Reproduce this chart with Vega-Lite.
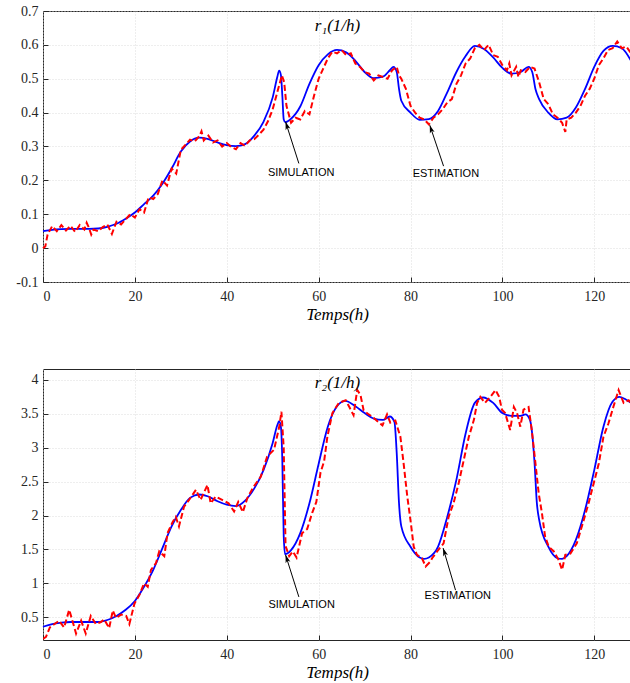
{
  "$schema": "https://vega.github.io/schema/vega-lite/v6.json",
  "padding": {"left": 5, "top": 3, "right": 0, "bottom": 0},
  "background": "white",
  "config": {
    "view": {"stroke": "#262626", "strokeWidth": 1},
    "axis": {
      "labelFont": "Liberation Serif", "labelFontSize": 14, "labelColor": "#262626",
      "titleFont": "Liberation Serif", "titleFontSize": 17, "titleFontStyle": "italic", "titleFontWeight": "normal", "titleColor": "#000000",
      "domain": false, "tickColor": "#262626", "tickSize": -5,
      "grid": true, "gridColor": "#d4d4d4", "gridDash": [1, 2], "gridWidth": 0.8
    },
    "axisX": {"labelPadding": 12},
    "axisY": {"labelPadding": 10}
  },
  "datasets": {
    "r1_sim": [
      {"x":0,"y":0.050},{"x":2,"y":0.054},{"x":4,"y":0.056},{"x":6,"y":0.057},{"x":8,"y":0.057},{"x":10,"y":0.057},{"x":12,"y":0.058},{"x":14,"y":0.063},{"x":16,"y":0.072},{"x":18,"y":0.087},{"x":20,"y":0.105},{"x":22,"y":0.130},{"x":24,"y":0.155},{"x":26,"y":0.190},{"x":28,"y":0.235},{"x":30,"y":0.285},{"x":32,"y":0.315},{"x":34,"y":0.326},{"x":36,"y":0.322},{"x":38,"y":0.312},{"x":40,"y":0.304},{"x":42,"y":0.301},{"x":44,"y":0.307},{"x":46,"y":0.332},{"x":48,"y":0.373},{"x":50,"y":0.445},{"x":51,"y":0.505},{"x":51.4,"y":0.524},{"x":51.8,"y":0.51},{"x":52.1,"y":0.45},{"x":52.4,"y":0.38},{"x":52.7,"y":0.372},{"x":54,"y":0.382},{"x":56,"y":0.418},{"x":58,"y":0.485},{"x":60,"y":0.540},{"x":62,"y":0.572},{"x":64,"y":0.585},{"x":66,"y":0.578},{"x":68,"y":0.553},{"x":70,"y":0.520},{"x":72,"y":0.502},{"x":74,"y":0.506},{"x":75.5,"y":0.525},{"x":76.3,"y":0.535},{"x":77,"y":0.52},{"x":77.5,"y":0.47},{"x":78,"y":0.435},{"x":80,"y":0.400},{"x":82,"y":0.379},{"x":84,"y":0.381},{"x":86,"y":0.405},{"x":88,"y":0.460},{"x":90,"y":0.520},{"x":92,"y":0.567},{"x":94,"y":0.597},{"x":96,"y":0.588},{"x":98,"y":0.563},{"x":100,"y":0.532},{"x":102,"y":0.515},{"x":104,"y":0.520},{"x":105.7,"y":0.535},{"x":106.5,"y":0.52},{"x":107.2,"y":0.47},{"x":108,"y":0.44},{"x":110,"y":0.400},{"x":112,"y":0.380},{"x":114,"y":0.385},{"x":116,"y":0.415},{"x":118,"y":0.470},{"x":120,"y":0.535},{"x":122,"y":0.582},{"x":124,"y":0.597},{"x":126,"y":0.590},{"x":128,"y":0.553}
    ],
    "r1_est": [
      {"x":0,"y":0.000},{"x":0.5,"y":0.005},{"x":1,"y":0.040},{"x":2,"y":0.065},{"x":3,"y":0.050},{"x":4,"y":0.068},{"x":5,"y":0.052},{"x":6,"y":0.066},{"x":7,"y":0.048},{"x":8,"y":0.068},{"x":9,"y":0.055},{"x":9.5,"y":0.075},{"x":10,"y":0.060},{"x":10.5,"y":0.040},{"x":11,"y":0.055},{"x":12,"y":0.050},{"x":13,"y":0.062},{"x":14,"y":0.070},{"x":15,"y":0.042},{"x":16,"y":0.078},{"x":17,"y":0.070},{"x":18,"y":0.085},{"x":19,"y":0.100},{"x":20,"y":0.090},{"x":21,"y":0.115},{"x":22,"y":0.105},{"x":23,"y":0.150},{"x":24,"y":0.145},{"x":25,"y":0.160},{"x":26,"y":0.200},{"x":27,"y":0.185},{"x":28,"y":0.235},{"x":29,"y":0.220},{"x":30,"y":0.290},{"x":31,"y":0.305},{"x":32,"y":0.320},{"x":33,"y":0.315},{"x":34,"y":0.330},{"x":34.5,"y":0.345},{"x":35,"y":0.318},{"x":36,"y":0.332},{"x":37,"y":0.312},{"x":38,"y":0.318},{"x":39,"y":0.300},{"x":40,"y":0.310},{"x":41,"y":0.298},{"x":42,"y":0.292},{"x":43,"y":0.310},{"x":44,"y":0.302},{"x":45,"y":0.318},{"x":46,"y":0.322},{"x":47,"y":0.335},{"x":48,"y":0.350},{"x":49,"y":0.375},{"x":50,"y":0.410},{"x":51,"y":0.460},{"x":52,"y":0.510},{"x":52.5,"y":0.490},{"x":53,"y":0.420},{"x":54,"y":0.370},{"x":55,"y":0.385},{"x":56,"y":0.380},{"x":57,"y":0.405},{"x":58,"y":0.395},{"x":59,"y":0.450},{"x":60,"y":0.500},{"x":61,"y":0.530},{"x":62,"y":0.560},{"x":63,"y":0.580},{"x":64,"y":0.575},{"x":65,"y":0.585},{"x":66,"y":0.570},{"x":67,"y":0.575},{"x":68,"y":0.545},{"x":69,"y":0.535},{"x":70,"y":0.520},{"x":71,"y":0.515},{"x":72,"y":0.495},{"x":73,"y":0.510},{"x":74,"y":0.505},{"x":75,"y":0.500},{"x":76,"y":0.525},{"x":77,"y":0.535},{"x":77.5,"y":0.510},{"x":78,"y":0.500},{"x":79,"y":0.470},{"x":80,"y":0.420},{"x":81,"y":0.400},{"x":82,"y":0.385},{"x":83,"y":0.380},{"x":84,"y":0.365},{"x":85,"y":0.385},{"x":86,"y":0.395},{"x":87,"y":0.410},{"x":88,"y":0.430},{"x":89,"y":0.440},{"x":90,"y":0.485},{"x":91,"y":0.510},{"x":92,"y":0.545},{"x":93,"y":0.560},{"x":94,"y":0.590},{"x":95,"y":0.600},{"x":96,"y":0.585},{"x":97,"y":0.600},{"x":98,"y":0.570},{"x":99,"y":0.565},{"x":100,"y":0.540},{"x":101,"y":0.525},{"x":101.5,"y":0.545},{"x":102,"y":0.510},{"x":103,"y":0.535},{"x":103.5,"y":0.505},{"x":104,"y":0.525},{"x":105,"y":0.520},{"x":106,"y":0.535},{"x":107,"y":0.530},{"x":108,"y":0.490},{"x":109,"y":0.440},{"x":110,"y":0.425},{"x":111,"y":0.395},{"x":112,"y":0.385},{"x":113,"y":0.370},{"x":113.7,"y":0.343},{"x":114,"y":0.380},{"x":115,"y":0.385},{"x":116,"y":0.400},{"x":117,"y":0.420},{"x":118,"y":0.450},{"x":119,"y":0.470},{"x":120,"y":0.500},{"x":121,"y":0.540},{"x":122,"y":0.560},{"x":123,"y":0.585},{"x":124,"y":0.590},{"x":125,"y":0.610},{"x":126,"y":0.590},{"x":127,"y":0.595},{"x":128,"y":0.575}
    ],
    "r2_sim": [
      {"x":0,"y":0.36},{"x":2,"y":0.40},{"x":4,"y":0.42},{"x":6,"y":0.43},{"x":8,"y":0.43},{"x":10,"y":0.43},{"x":12,"y":0.43},{"x":14,"y":0.46},{"x":16,"y":0.52},{"x":18,"y":0.61},{"x":20,"y":0.74},{"x":22,"y":0.95},{"x":24,"y":1.20},{"x":26,"y":1.52},{"x":28,"y":1.84},{"x":30,"y":2.08},{"x":32,"y":2.26},{"x":34,"y":2.31},{"x":36,"y":2.28},{"x":38,"y":2.21},{"x":40,"y":2.16},{"x":42,"y":2.14},{"x":44,"y":2.22},{"x":46,"y":2.40},{"x":48,"y":2.67},{"x":50,"y":3.07},{"x":51,"y":3.33},{"x":51.4,"y":3.39},{"x":51.8,"y":3.30},{"x":52.1,"y":2.80},{"x":52.4,"y":1.70},{"x":52.7,"y":1.43},{"x":54,"y":1.49},{"x":56,"y":1.74},{"x":58,"y":2.18},{"x":60,"y":2.76},{"x":62,"y":3.31},{"x":64,"y":3.61},{"x":65.8,"y":3.69},{"x":68,"y":3.61},{"x":70,"y":3.51},{"x":72,"y":3.43},{"x":74,"y":3.41},{"x":75.5,"y":3.46},{"x":76.5,"y":3.38},{"x":77,"y":2.92},{"x":77.5,"y":2.18},{"x":78,"y":1.84},{"x":80,"y":1.54},{"x":82,"y":1.38},{"x":83,"y":1.36},{"x":84,"y":1.38},{"x":86,"y":1.54},{"x":88,"y":1.98},{"x":90,"y":2.53},{"x":92,"y":3.21},{"x":94,"y":3.66},{"x":95.8,"y":3.74},{"x":98,"y":3.66},{"x":100,"y":3.51},{"x":102,"y":3.47},{"x":104,"y":3.47},{"x":105,"y":3.49},{"x":106,"y":3.41},{"x":107,"y":2.78},{"x":107.5,"y":2.19},{"x":108,"y":1.94},{"x":110,"y":1.54},{"x":112,"y":1.37},{"x":113,"y":1.36},{"x":114,"y":1.40},{"x":116,"y":1.64},{"x":118,"y":2.08},{"x":120,"y":2.67},{"x":122,"y":3.31},{"x":124,"y":3.68},{"x":125.5,"y":3.75},{"x":126,"y":3.74},{"x":128,"y":3.66}
    ],
    "r2_est": [
      {"x":0,"y":0.18},{"x":0.65,"y":0.21},{"x":1.5,"y":0.35},{"x":2.5,"y":0.40},{"x":3.5,"y":0.45},{"x":4.6,"y":0.35},{"x":5.7,"y":0.61},{"x":6.4,"y":0.45},{"x":7.2,"y":0.26},{"x":8.3,"y":0.45},{"x":9.3,"y":0.26},{"x":10.4,"y":0.52},{"x":11.5,"y":0.40},{"x":12.6,"y":0.43},{"x":13.3,"y":0.47},{"x":14.4,"y":0.34},{"x":15.2,"y":0.60},{"x":15.9,"y":0.49},{"x":17.0,"y":0.54},{"x":18.1,"y":0.52},{"x":18.8,"y":0.40},{"x":19.9,"y":0.70},{"x":21.0,"y":0.83},{"x":22.0,"y":1.00},{"x":22.8,"y":0.95},{"x":23.5,"y":1.20},{"x":24.6,"y":1.30},{"x":25.3,"y":1.47},{"x":26.4,"y":1.40},{"x":27.1,"y":1.74},{"x":28.2,"y":1.90},{"x":28.9,"y":1.98},{"x":29.6,"y":1.84},{"x":30.7,"y":2.13},{"x":31.8,"y":2.23},{"x":33.3,"y":2.38},{"x":34.3,"y":2.23},{"x":35.8,"y":2.45},{"x":36.5,"y":2.18},{"x":37.6,"y":2.28},{"x":39.0,"y":2.23},{"x":40.4,"y":2.18},{"x":41.6,"y":2.06},{"x":42.5,"y":2.20},{"x":43.5,"y":2.05},{"x":44.5,"y":2.26},{"x":45.9,"y":2.43},{"x":47.4,"y":2.57},{"x":48.8,"y":2.87},{"x":50.3,"y":2.97},{"x":51.4,"y":3.30},{"x":51.9,"y":3.53},{"x":52.4,"y":3.00},{"x":52.8,"y":1.55},{"x":53.6,"y":1.40},{"x":54.4,"y":1.47},{"x":55.2,"y":1.38},{"x":56.4,"y":1.74},{"x":57.5,"y":1.80},{"x":58.6,"y":2.04},{"x":59.5,"y":2.20},{"x":60.4,"y":2.63},{"x":61.2,"y":2.80},{"x":61.9,"y":3.16},{"x":63.0,"y":3.51},{"x":64.4,"y":3.66},{"x":65.9,"y":3.70},{"x":66.6,"y":3.61},{"x":67.6,"y":3.48},{"x":68.4,"y":3.85},{"x":69.1,"y":3.78},{"x":69.8,"y":3.55},{"x":70.9,"y":3.49},{"x":71.8,"y":3.45},{"x":72.8,"y":3.39},{"x":73.9,"y":3.33},{"x":74.9,"y":3.49},{"x":75.6,"y":3.37},{"x":76.7,"y":3.40},{"x":77.8,"y":3.16},{"x":78.5,"y":2.77},{"x":79.3,"y":2.28},{"x":80.0,"y":1.93},{"x":80.7,"y":1.54},{"x":81.4,"y":1.42},{"x":82.5,"y":1.37},{"x":83.3,"y":1.25},{"x":84.3,"y":1.32},{"x":84.7,"y":1.37},{"x":85.8,"y":1.47},{"x":87.2,"y":1.59},{"x":88.3,"y":1.98},{"x":89.4,"y":2.19},{"x":90.5,"y":2.48},{"x":91.6,"y":2.82},{"x":92.7,"y":3.16},{"x":93.8,"y":3.41},{"x":94.5,"y":3.66},{"x":95.2,"y":3.75},{"x":96.2,"y":3.66},{"x":97.4,"y":3.75},{"x":98.5,"y":3.85},{"x":99.3,"y":3.75},{"x":99.9,"y":3.56},{"x":100.6,"y":3.51},{"x":101.7,"y":3.26},{"x":102.5,"y":3.60},{"x":103.2,"y":3.51},{"x":103.9,"y":3.31},{"x":104.6,"y":3.56},{"x":105.7,"y":3.60},{"x":106.4,"y":3.26},{"x":107.2,"y":2.77},{"x":107.9,"y":2.33},{"x":108.6,"y":2.04},{"x":109.3,"y":1.69},{"x":110.1,"y":1.54},{"x":111.2,"y":1.47},{"x":112.2,"y":1.35},{"x":113.0,"y":1.20},{"x":113.7,"y":1.42},{"x":114.8,"y":1.44},{"x":116.2,"y":1.59},{"x":117.7,"y":1.93},{"x":118.8,"y":2.19},{"x":119.9,"y":2.48},{"x":121.0,"y":2.77},{"x":122.0,"y":3.16},{"x":123.1,"y":3.36},{"x":124.2,"y":3.61},{"x":125.3,"y":3.85},{"x":126.4,"y":3.66},{"x":127.5,"y":3.70},{"x":128,"y":3.66}
    ],
    "r1_labels": [
      {"x":56.2,"y":0.223,"label":"SIMULATION"},
      {"x":87.7,"y":0.219,"label":"ESTIMATION"}
    ],
    "r1_arrows": [
      {"x":55.7,"y":0.25,"x2":52.8,"y2":0.373},
      {"x":87.2,"y":0.242,"x2":84.2,"y2":0.363}
    ],
    "r1_title": [{"x":64.1,"y":0.655,"label":"r₁(1/h)"}],
    "r2_labels": [
      {"x":56.3,"y":0.68,"label":"SIMULATION"},
      {"x":90.3,"y":0.82,"label":"ESTIMATION"}
    ],
    "r2_arrows": [
      {"x":55.7,"y":0.80,"x2":52.8,"y2":1.42},
      {"x":89.8,"y":0.90,"x2":87.1,"y2":1.52}
    ],
    "r2_title": [{"x":64.1,"y":3.95,"label":"r₂(1/h)"}]
  },
  "vconcat": [
    {
      "width": 588, "height": 271,
      "layer": [
        {
          "data": {"name": "r1_sim"},
          "mark": {"type": "line", "color": "#0000ff", "strokeWidth": 1.8, "interpolate": "monotone"},
          "encoding": {
            "x": {"field": "x", "type": "quantitative", "scale": {"domain": [0, 128], "nice": false, "zero": false},
                  "axis": {"values": [0, 20, 40, 60, 80, 100, 120], "tickCount": 7, "title": "Temps(h)", "titlePadding": 3}},
            "y": {"field": "y", "type": "quantitative", "scale": {"domain": [-0.1, 0.7], "nice": false, "zero": false},
                  "axis": {"values": [-0.1, 0, 0.1, 0.2, 0.3, 0.4, 0.5, 0.6, 0.7], "tickCount": 9, "title": null, "minExtent": 37, "maxExtent": 37, "labelOverlap": false,
                           "labelExpr": "datum.value == 0 ? '0' : (datum.value < 0 ? '-' + format(-datum.value, '.1f') : format(datum.value, '.1f'))"}}
          }
        },
        {
          "data": {"name": "r1_est"},
          "mark": {"type": "line", "color": "#ff0000", "strokeWidth": 2, "strokeDash": [6, 3]},
          "encoding": {"x": {"field": "x", "type": "quantitative"}, "y": {"field": "y", "type": "quantitative"}}
        },
        {
          "data": {"name": "r1_arrows"},
          "mark": {"type": "rule", "color": "#000000", "strokeWidth": 1},
          "encoding": {"x": {"field": "x", "type": "quantitative"}, "y": {"field": "y", "type": "quantitative"},
                       "x2": {"field": "x2"}, "y2": {"field": "y2"}}
        },
        {
          "data": {"name": "r1_arrows"},
          "mark": {"type": "point", "shape": "M0,0L-0.5,1.6L0,1.2L0.5,1.6Z", "filled": true, "color": "#000000", "opacity": 1, "size": 100, "angle": 342},
          "encoding": {"x": {"field": "x2", "type": "quantitative"}, "y": {"field": "y2", "type": "quantitative"}}
        },
        {
          "data": {"name": "r1_labels"},
          "mark": {"type": "text", "font": "Liberation Sans", "fontSize": 11, "color": "#000000", "align": "center", "baseline": "middle"},
          "encoding": {"x": {"field": "x", "type": "quantitative"}, "y": {"field": "y", "type": "quantitative"}, "text": {"field": "label"}}
        },
        {
          "data": {"name": "r1_title"},
          "mark": {"type": "text", "font": "Liberation Serif", "fontSize": 17, "fontStyle": "italic", "color": "#000000", "align": "center", "baseline": "middle"},
          "encoding": {"x": {"field": "x", "type": "quantitative"}, "y": {"field": "y", "type": "quantitative"}, "text": {"field": "label"}}
        }
      ]
    },
    {
      "width": 588, "height": 271,
      "layer": [
        {
          "data": {"name": "r2_sim"},
          "mark": {"type": "line", "color": "#0000ff", "strokeWidth": 1.8, "interpolate": "monotone"},
          "encoding": {
            "x": {"field": "x", "type": "quantitative", "scale": {"domain": [0, 128], "nice": false, "zero": false},
                  "axis": {"values": [0, 20, 40, 60, 80, 100, 120], "tickCount": 7, "title": "Temps(h)", "titlePadding": 3}},
            "y": {"field": "y", "type": "quantitative", "scale": {"domain": [0.165, 4.16], "nice": false, "zero": false},
                  "axis": {"values": [0.5, 1, 1.5, 2, 2.5, 3, 3.5, 4], "tickCount": 8, "format": "~g", "title": null, "minExtent": 37, "maxExtent": 37, "labelOverlap": false}}
          }
        },
        {
          "data": {"name": "r2_est"},
          "mark": {"type": "line", "color": "#ff0000", "strokeWidth": 2, "strokeDash": [6, 3], "clip": true},
          "encoding": {"x": {"field": "x", "type": "quantitative"}, "y": {"field": "y", "type": "quantitative"}}
        },
        {
          "data": {"name": "r2_arrows"},
          "mark": {"type": "rule", "color": "#000000", "strokeWidth": 1},
          "encoding": {"x": {"field": "x", "type": "quantitative"}, "y": {"field": "y", "type": "quantitative"},
                       "x2": {"field": "x2"}, "y2": {"field": "y2"}}
        },
        {
          "data": {"name": "r2_arrows"},
          "mark": {"type": "point", "shape": "M0,0L-0.5,1.6L0,1.2L0.5,1.6Z", "filled": true, "color": "#000000", "opacity": 1, "size": 100, "angle": 342},
          "encoding": {"x": {"field": "x2", "type": "quantitative"}, "y": {"field": "y2", "type": "quantitative"}}
        },
        {
          "data": {"name": "r2_labels"},
          "mark": {"type": "text", "font": "Liberation Sans", "fontSize": 11, "color": "#000000", "align": "center", "baseline": "middle"},
          "encoding": {"x": {"field": "x", "type": "quantitative"}, "y": {"field": "y", "type": "quantitative"}, "text": {"field": "label"}}
        },
        {
          "data": {"name": "r2_title"},
          "mark": {"type": "text", "font": "Liberation Serif", "fontSize": 17, "fontStyle": "italic", "color": "#000000", "align": "center", "baseline": "middle"},
          "encoding": {"x": {"field": "x", "type": "quantitative"}, "y": {"field": "y", "type": "quantitative"}, "text": {"field": "label"}}
        }
      ]
    }
  ],
  "spacing": 87,
  "bounds": "flush"
}
